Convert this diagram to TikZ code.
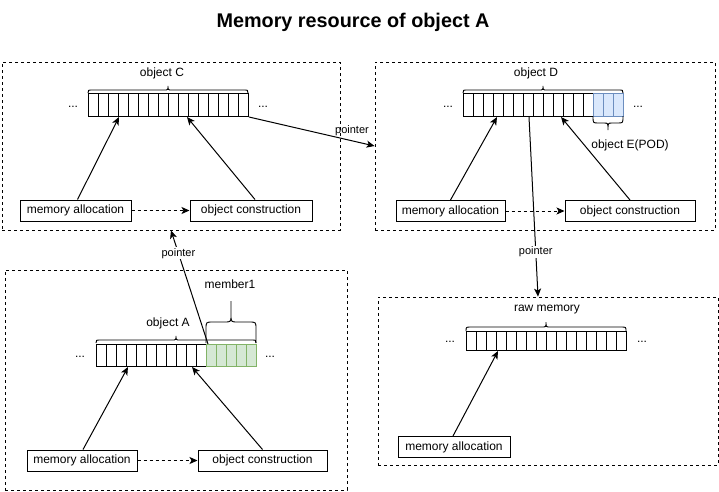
\documentclass[tikz,border=0pt]{standalone}
\usepackage{fontspec}
\setmainfont{Liberation Sans}
\usetikzlibrary{arrows.meta}
\definecolor{gfill}{HTML}{D5E8D4}
\definecolor{gline}{HTML}{82B366}
\definecolor{bfill}{HTML}{DAE8FC}
\definecolor{bline}{HTML}{6C8EBF}
% #1 x1, #2 x2, #3 y base, #4 y bar, #5 y tip
\newcommand\drbrace[5]{%
  \draw[brc] ({#1},{#3}) .. controls ({#1},{#4}) .. ({#1+5},{#4})
    -- ({(#1+#2)/2-4},{#4}) .. controls ({(#1+#2)/2},{#4}) .. ({(#1+#2)/2},{#5})
    .. controls ({(#1+#2)/2},{#4}) .. ({(#1+#2)/2+4},{#4})
    -- ({#2-5},{#4}) .. controls ({#2},{#4}) .. ({#2},{#3});}
\begin{document}
\begin{tikzpicture}[x=1pt,y=-1pt,
  font=\fontsize{12}{14}\selectfont,
  region/.style={draw, line width=0.9pt, dash pattern=on 3pt off 3pt, inner sep=0pt},
  opbox/.style={draw, line width=1pt, inner sep=0pt, minimum height=21pt},
  mem/.style={draw, line width=1pt, inner sep=0pt, anchor=north west},
  cell/.style={line width=0.8pt},
  brc/.style={line width=0.9pt},
  lbl/.style={inner sep=1pt},
  dots/.style={inner sep=0pt},
  ptr/.style={font=\fontsize{11}{13}\selectfont, inner sep=1pt},
  conn/.style={line width=1pt, -{Stealth[length=8pt,width=7pt,inset=2pt]}},
  dconn/.style={conn, dash pattern=on 3pt off 3pt}]
\useasboundingbox (0,0) rectangle (719,491);

% title
\node[font=\fontsize{19.8}{24}\selectfont\bfseries] (title) at (353,22) {Memory resource of object A};

% region boxes
\node[region, minimum width=338pt, minimum height=168pt] (boxC) at (171,146) {};
\node[region, minimum width=340pt, minimum height=168pt] (boxD) at (545,146) {};
\node[region, minimum width=342pt, minimum height=220pt] (boxA) at (176,380) {};
\node[region, minimum width=340pt, minimum height=168pt] (boxR) at (548,381) {};

% ---------- object C ----------
\node[mem, minimum width=160pt, minimum height=23pt] (arrC) at (88,93) {};
\foreach \i in {1,...,15}
  \draw[cell] ([xshift={10pt*\i}]arrC.north west) -- ([xshift={10pt*\i}]arrC.south west);
\drbrace{88}{248}{93}{90}{86}
\node[lbl] (labC) at (162,73) {object C};
\node[dots] (dCl) at (73,107) {...};
\node[dots] (dCr) at (263,107) {...};
\node[opbox, minimum width=111pt] (allocC) at (75.5,210.5) {memory allocation};
\node[opbox, minimum width=122pt] (consC) at (251,210.5) {object construction};
\draw[conn] ([xshift=2pt]allocC.north) -- ([xshift=31pt]arrC.south west);
\draw[conn] ([xshift=4pt]consC.north) -- ([xshift=99pt]arrC.south west);
\draw[dconn] (allocC) -- (consC);

% ---------- object D ----------
\node[mem, minimum width=130pt, minimum height=23pt] (arrD) at (463,93) {};
\node[mem, draw=bline, fill=bfill, minimum width=30pt, minimum height=23pt] (objE) at (593,93) {};
\foreach \i in {1,...,12}
  \draw[cell] ([xshift={10pt*\i}]arrD.north west) -- ([xshift={10pt*\i}]arrD.south west);
\foreach \i in {1,2}
  \draw[cell, bline] ([xshift={10pt*\i}]objE.north west) -- ([xshift={10pt*\i}]objE.south west);
\drbrace{463}{623}{93}{90}{86}
\drbrace{593}{623}{116}{123}{130}
\node[lbl] (labD) at (536,73) {object D};
\node[lbl] (labE) at (630,145) {object E(POD)};
\node[dots] (dDl) at (448,107) {...};
\node[dots] (dDr) at (638,107) {...};
\node[opbox, minimum width=109pt] (allocD) at (450.5,211) {memory allocation};
\node[opbox, minimum width=130pt] (consD) at (630,211) {object construction};
\draw[conn] (allocD.north) -- ([xshift=34pt]arrD.south west);
\draw[conn] (consD.north) -- ([xshift=98pt]arrD.south west);
\draw[dconn] (allocD) -- (consD);

% ---------- object A ----------
\node[mem, minimum width=110pt, minimum height=22pt] (arrA) at (96,344) {};
\node[mem, draw=gline, fill=gfill, minimum width=50pt, minimum height=22pt] (memb) at (206,344) {};
\foreach \i in {1,...,10}
  \draw[cell] ([xshift={10pt*\i}]arrA.north west) -- ([xshift={10pt*\i}]arrA.south west);
\foreach \i in {1,...,4}
  \draw[cell, gline] ([xshift={10pt*\i}]memb.north west) -- ([xshift={10pt*\i}]memb.south west);
\drbrace{96}{256}{343}{340}{336}
\draw[brc] (206,343) -- (206,329) .. controls (206,322) .. (213,322) -- (224,322)
  .. controls (231,322) .. (231,315) -- (231,301) -- (231,315)
  .. controls (231,322) .. (238,322) -- (249,322) .. controls (256,322) .. (256,329) -- (256,343);
\node[lbl] (labA) at (168,323) {object A};
\node[lbl] (labM) at (230,284) {member1};
\node[dots] (dAl) at (80,357) {...};
\node[dots] (dAr) at (270,357) {...};
\node[opbox, minimum width=110pt] (allocA) at (82,460.5) {memory allocation};
\node[opbox, minimum width=129pt] (consA) at (262.5,460.5) {object construction};
\draw[conn] ([xshift=1pt]allocA.north) -- ([xshift=32pt]arrA.south west);
\draw[conn] (consA.north) -- ([xshift=96pt]arrA.south west);
\draw[dconn] (allocA) -- (consA);

% ---------- raw memory ----------
\node[mem, minimum width=160pt, minimum height=19pt] (arrR) at (466,331) {};
\foreach \i in {1,...,15}
  \draw[cell] ([xshift={10pt*\i}]arrR.north west) -- ([xshift={10pt*\i}]arrR.south west);
\drbrace{466}{626}{331}{327}{322}
\node[lbl] (labR) at (547,310) {raw memory};
\node[dots] (dRl) at (450,342) {...};
\node[dots] (dRr) at (642,342) {...};
\node[opbox, minimum width=112pt] (allocR) at (454,447) {memory allocation};
\draw[conn] ([xshift=-1pt]allocR.north) -- ([xshift=32pt]arrR.south west);

% ---------- pointers ----------
\draw[conn] (arrC.south east) -- (boxD.west);
\node[ptr] (pCD) at (352,131) {pointer};
\draw[conn] ([xshift=66pt]arrD.south west) -- ([xshift=-10pt]boxR.north)
  node[ptr, fill=white, pos=0.75] (pDR) {pointer};
\draw[conn] ([xshift=2pt]memb.north west) -- (boxC.south)
  node[ptr, fill=white, pos=0.8] (pAC) {pointer};
\end{tikzpicture}
\end{document}
